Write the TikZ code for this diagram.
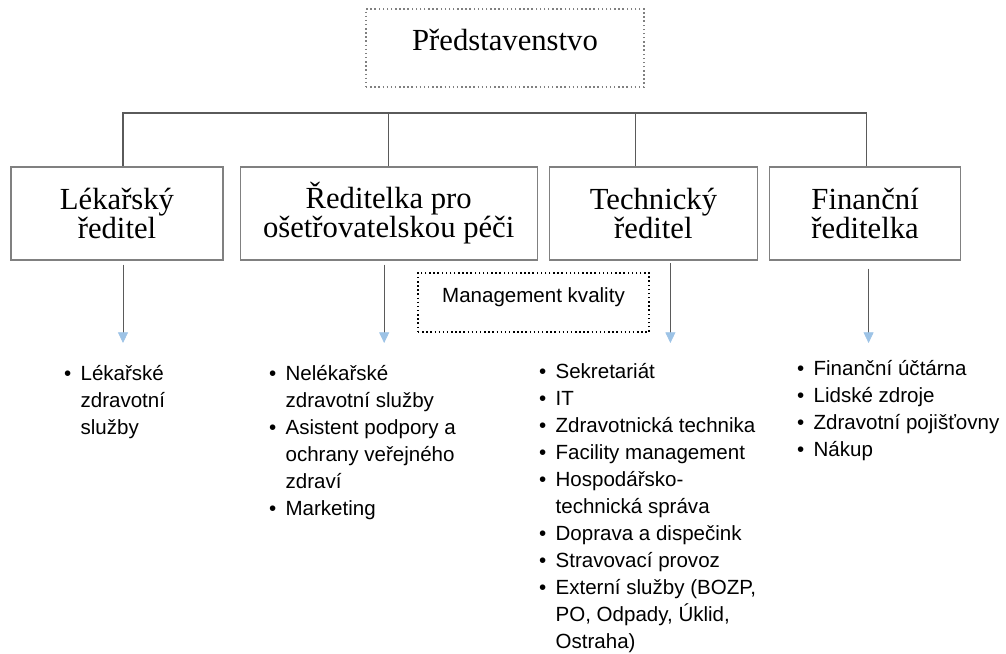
\documentclass[tikz,border=0pt]{standalone}
\usepackage{fontspec}
\setmainfont{Liberation Serif}
\setsansfont{Liberation Sans}
\usetikzlibrary{positioning,arrows.meta}
\definecolor{boxgray}{HTML}{808080}
\definecolor{linegray}{HTML}{5A5A5A}
\definecolor{tipblue}{HTML}{9DC3E6}
\newcommand{\listfont}{\sffamily\fontsize{15.4}{20.25}\selectfont}

\begin{document}
\begin{tikzpicture}[x=0.75pt, y=-0.75pt, line width=0.9pt,
    head/.style={rectangle, draw=boxgray, minimum height=69.75pt, inner sep=0pt, align=center, font=\fontsize{23}{21.75}\selectfont},
    dotbox/.style={rectangle, draw=black, dotted, line width=1.1pt, inner sep=0pt},
    bus/.style={draw=linegray, line width=1pt},
    down/.style={draw=linegray, line width=0.6pt, -{Triangle[width=7.5pt, length=8pt, fill=tipblue, color=tipblue]}},
    items/.style={anchor=base west, inner sep=0pt, font=\listfont}
]
            \useasboundingbox (0,0) rectangle (1006,653);

            % --- Nodes Placement ---
            \node[dotbox, draw=boxgray, minimum width=208.5pt, text height=30.75pt, text depth=27.75pt, anchor=base, font=\fontsize{23}{27}\selectfont] (BOARD) at (505,50) {Představenstvo};

            \node[head, minimum width=159pt] (LR) at (117,213.5) {Lékařský\\ředitel};
            \node[head, minimum width=222.75pt] (OR) [right=12pt of LR] {Ředitelka pro\\ošetřovatelskou péči};
            \node[head, minimum width=156pt] (TR) [right=8.25pt of OR] {Technický\\ředitel};
            \node[head, minimum width=143.25pt] (FR) [right=8.25pt of TR] {Finanční\\ředitelka};

            \node[dotbox, minimum width=173.25pt, text height=21.75pt, text depth=22.5pt, anchor=base, font=\listfont] (QM) at (533.5,302) {Management kvality};

            \coordinate (bus) at (0,113);
            \coordinate (tips) at (0,343);

            % --- Bus Connections ---
            \draw[bus] ([xshift=4.5pt]LR.north) |- ([xshift=1pt]FR.north |- bus) -- ([xshift=1pt]FR.north);
            \draw[bus] (OR.north) -- (OR.north |- bus);
            \draw[bus] ([xshift=-13.5pt]TR.north) -- ([xshift=-13.5pt]TR.north |- bus);

            % --- Down Arrows ---
            \draw[down] ([xshift=4.5pt, yshift=-3pt]LR.south) -- ([xshift=4.5pt]LR.south |- tips);
            \draw[down] ([xshift=-3.4pt, yshift=-3pt]OR.south) -- ([xshift=-3.4pt]OR.south |- tips);
            \draw[down] ([xshift=12.75pt, yshift=-2pt]TR.south) -- ([xshift=12.75pt]TR.south |- tips);
            \draw[down] ([xshift=2.6pt, yshift=-6pt]FR.south) -- ([xshift=2.6pt]FR.south |- tips);

            % --- Lists ---
            \node[items] (LRlist) at (63.5,380) {\begin{tabular}[t]{@{}l@{\hspace{7pt}}l@{}}
                \textbullet & Lékařské\\ & zdravotní\\ & služby
            \end{tabular}};
            \node[items] (ORlist) at (268.5,380) {\begin{tabular}[t]{@{}l@{\hspace{7pt}}l@{}}
                \textbullet & Nelékařské\\ & zdravotní služby\\
                \textbullet & Asistent podpory a\\ & ochrany veřejného\\ & zdraví\\
                \textbullet & Marketing
            \end{tabular}};
            \node[items] (TRlist) at (538.5,378) {\begin{tabular}[t]{@{}l@{\hspace{7pt}}l@{}}
                \textbullet & Sekretariát\\
                \textbullet & IT\\
                \textbullet & Zdravotnická technika\\
                \textbullet & Facility management\\
                \textbullet & Hospodářsko-\\ & technická správa\\
                \textbullet & Doprava a dispečink\\
                \textbullet & Stravovací provoz\\
                \textbullet & Externí služby (BOZP,\\ & PO, Odpady, Úklid,\\ & Ostraha)
            \end{tabular}};
            \node[items] (FRlist) at (796.5,375) {\begin{tabular}[t]{@{}l@{\hspace{7pt}}l@{}}
                \textbullet & Finanční účtárna\\
                \textbullet & Lidské zdroje\\
                \textbullet & Zdravotní pojišťovny\\
                \textbullet & Nákup
            \end{tabular}};
        \end{tikzpicture}
\end{document}
